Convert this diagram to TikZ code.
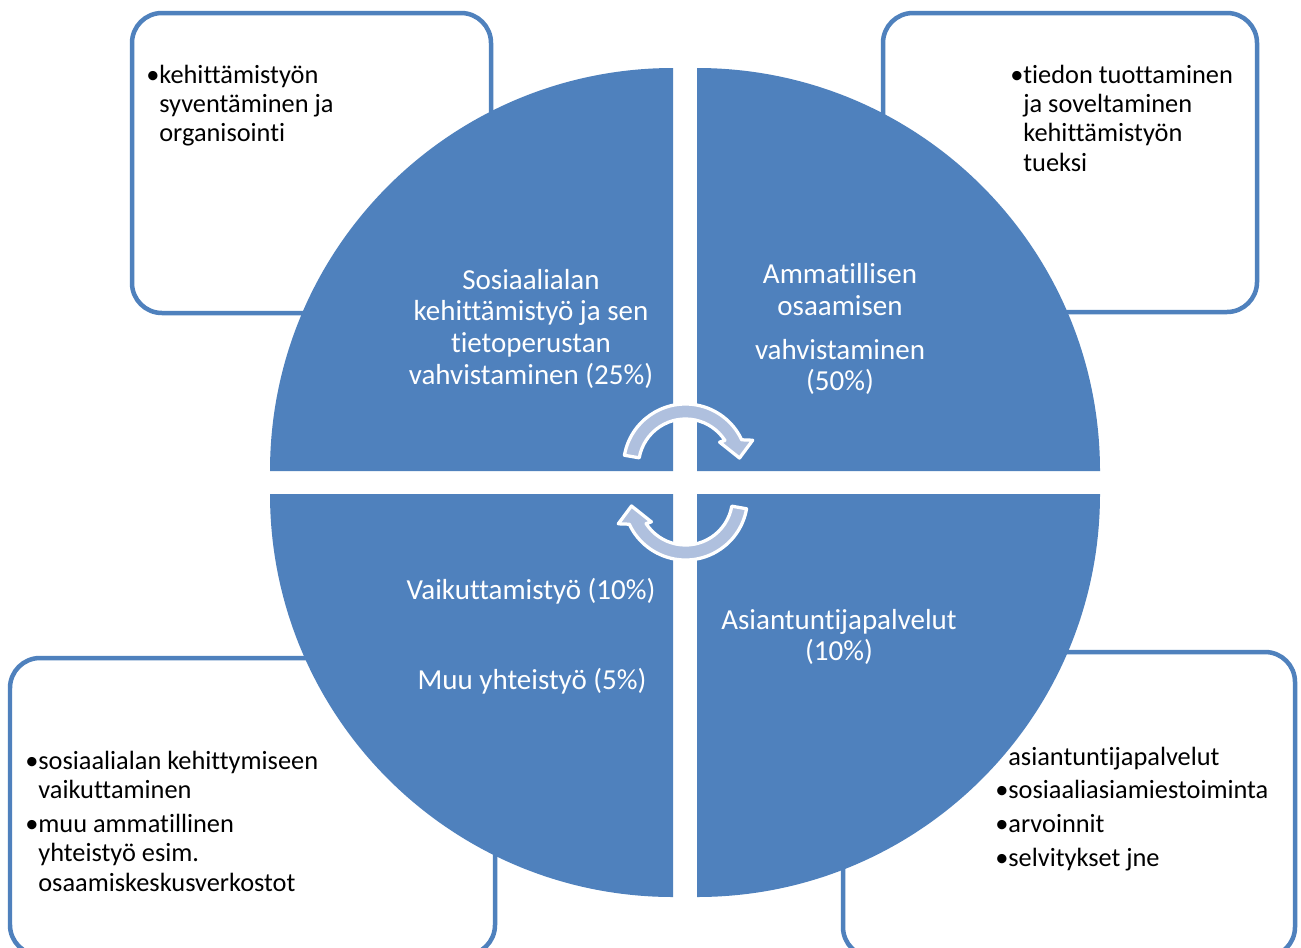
\documentclass[tikz,border=0pt]{standalone}
\usepackage{fontspec}
\setmainfont{Carlito}[Ligatures=NoCommon]
\usetikzlibrary{calc}
\definecolor{qblue}{RGB}{79,129,189}
\definecolor{arrowfill}{RGB}{175,192,222}
\newcommand\bul{\makebox[7.4pt][l]{•}}
\newcommand\ind{\hspace*{7.4pt}}
\newcommand\boxfont{\fontsize{15}{16.72}\selectfont}
\newcommand\circfont{\fontsize{16.5}{18.14}\selectfont}
\newcommand\stackL[1]{\begin{tabular}[t]{@{}l@{}}#1\end{tabular}}
\newcommand\stackC[1]{\begin{tabular}[t]{@{}c@{}}#1\end{tabular}}
\tikzset{
  panel/.style={draw=qblue, line width=0.09cm, fill=white, rounded corners=0.6cm},
  quad/.style={fill=qblue},
  cycarrow/.style={fill=arrowfill, draw=white, line width=0.065cm, line join=round},
  boxtext/.style={font=\boxfont, inner sep=0pt, anchor=base west, text=black},
  circtext/.style={font=\circfont, inner sep=0pt, anchor=base, text=white},
}
\begin{document}
\begin{tikzpicture}[x=0.02cm, y=-0.02cm]
\useasboundingbox (0,0) rectangle (1301,947);
\clip (0,0) rectangle (1301,947);
\fill[white] (0,0) rectangle (1301,947);

% corner panels
\draw[panel] (132,13) rectangle (491,313);
\draw[panel] (883,13) rectangle (1257,312);
\draw[panel] (10,658) rectangle (495,955);
\draw[panel] (843,652) rectangle (1295,957);

\node[boxtext] (tltext) at (146,83) {\stackL{\bul kehittämistyön\\\ind syventäminen ja\\\ind organisointi}};
\node[boxtext] (trtext) at (1010,83) {\stackL{\bul tiedon tuottaminen\\\ind ja soveltaminen\\\ind kehittämistyön\\\ind tueksi}};
\node[boxtext] (bltext) at (25,769) {\stackL{\bul sosiaalialan kehittymiseen\\\ind vaikuttaminen\\[2.6pt]\bul muu ammatillinen\\\ind yhteistyö esim.\\\ind osaamiskeskusverkostot}};
\node[boxtext] (brtext) at (995,765) {\stackL{\ind asiantuntijapalvelut\\[2.6pt]\bul sosiaaliasiamiestoiminta\\[2.6pt]\bul arvoinnit\\[2.6pt]\bul selvitykset jne}};

% circle quadrants
\fill[quad] (673,471) -- (270,471) arc[start angle=180, end angle=270, radius=403] -- cycle;
\fill[quad] (697,471) -- (697,68) arc[start angle=270, end angle=360, radius=403] -- cycle;
\fill[quad] (697,494) -- (1100,494) arc[start angle=0, end angle=90, radius=403] -- cycle;
\fill[quad] (673,494) -- (673,897) arc[start angle=90, end angle=180, radius=403] -- cycle;

% cycle arrows
\coordinate (c1) at (685.5,466);
\coordinate (c2) at (685.5,498);
\draw[cycarrow] ($(c1)+(-170:62)$) arc[start angle=-170, end angle=-25, radius=62]
  -- ($(c1)+(-21:72)$) -- ($(c1)+(-8.4:54.6)$) -- ($(c1)+(-35:41.6)$)
  -- ($(c1)+(-33:47)$) arc[start angle=-33, end angle=-170, radius=47] -- cycle;
\draw[cycarrow] ($(c2)+(10:62)$) arc[start angle=10, end angle=155, radius=62]
  -- ($(c2)+(159:72)$) -- ($(c2)+(171.6:54.6)$) -- ($(c2)+(145:41.6)$)
  -- ($(c2)+(147:47)$) arc[start angle=147, end angle=10, radius=47] -- cycle;

% circle texts
\node[circtext] (tlq) at (531,289) {\stackC{Sosiaalialan\\kehittämistyö ja sen\\tietoperustan\\vahvistaminen (25\%)}};
\node[circtext] (trq) at (840,283) {\stackC{Ammatillisen\\[0.5pt]osaamisen\\[6.5pt]vahvistaminen\\(50\%)}};
\node[circtext] (blq1) at (531,599) {Vaikuttamistyö (10\%)};
\node[circtext] (blq2) at (532,689) {Muu yhteistyö (5\%)};
\node[circtext] (brq) at (839,629) {\stackC{Asiantuntijapalvelut\\(10\%)}};
\end{tikzpicture}
\end{document}
